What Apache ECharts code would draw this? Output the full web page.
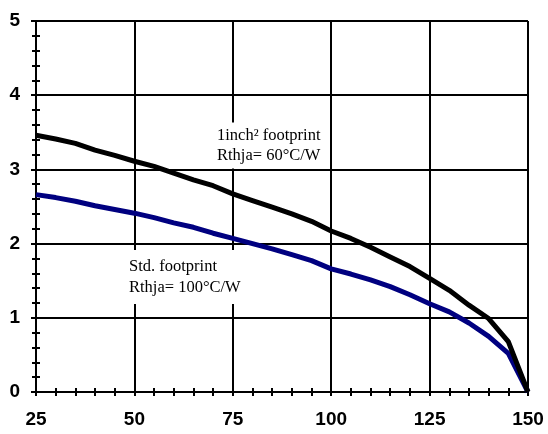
<!DOCTYPE html>
<html>
<head>
<meta charset="utf-8">
<script src="https://cdn.jsdelivr.net/npm/echarts@6/dist/echarts.min.js"></script>
<style>
html,body{margin:0;padding:0;background:#fff;}
#chart{width:548px;height:434px;}
</style>
</head>
<body>
<div id="chart"></div>
<script>
// Temperature (°C)
const temps = [25,30,35,40,45,50,55,60,65,70,75,80,85,90,95,100,105,110,115,120,125,130,135,140,145,150];
// 1inch² footprint, Rthja = 60°C/W
const footprint1inch = [3.46,3.41,3.35,3.26,3.19,3.11,3.04,2.95,2.86,2.78,2.67,2.58,2.49,2.40,2.30,2.17,2.07,1.95,1.82,1.69,1.53,1.37,1.17,0.99,0.68,0];
// Std. footprint, Rthja = 100°C/W
const footprintStd = [2.66,2.62,2.57,2.51,2.46,2.41,2.35,2.28,2.22,2.14,2.07,2.00,1.93,1.85,1.77,1.66,1.59,1.51,1.42,1.31,1.19,1.08,0.93,0.75,0.52,0];
const label1 = '1inch\u00B2 footprint\nRthja= 60\u00B0C/W';
const label2 = 'Std. footprint\nRthja= 100\u00B0C/W';

const chart = echarts.init(document.getElementById('chart'));
const pair = (xs, ys) => xs.map((x, i) => [x, ys[i]]);
const lblFont = {fontFamily:'Liberation Sans', fontWeight:'bold', fontSize:19, color:'#000'};

chart.setOption({
  animation:false,
  backgroundColor:'#fff',
  grid:{left:36, right:20, top:21, bottom:42, containLabel:false},
  xAxis:[{
    type:'value', min:25, max:150, interval:25, position:'bottom',
    axisLine:{show:true, onZero:false, lineStyle:{color:'#000', width:2}},
    axisTick:{show:true, length:4, lineStyle:{color:'#000', width:2}},
    minorTick:{show:true, splitNumber:5, length:4, lineStyle:{color:'#000', width:2}},
    splitLine:{show:true, lineStyle:{color:'#000', width:2}},
    axisLabel:Object.assign({margin:18}, lblFont)
  },{
    type:'value', min:25, max:150, interval:25, position:'bottom',
    axisLine:{show:false},
    axisTick:{show:true, inside:true, length:4, lineStyle:{color:'#000', width:2}},
    minorTick:{show:true, splitNumber:5, length:4, lineStyle:{color:'#000', width:2}},
    splitLine:{show:false},
    axisLabel:{show:false}
  }],
  yAxis:[{
    type:'value', min:0, max:5, interval:1, position:'left',
    axisLine:{show:true, onZero:false, lineStyle:{color:'#000', width:2}},
    axisTick:{show:true, length:5, lineStyle:{color:'#000', width:2}},
    minorTick:{show:true, splitNumber:5, length:4, lineStyle:{color:'#000', width:2}},
    splitLine:{show:true, lineStyle:{color:'#000', width:2}},
    axisLabel:Object.assign({margin:16}, lblFont)
  },{
    type:'value', min:0, max:5, interval:1, position:'left',
    axisLine:{show:false},
    axisTick:{show:true, inside:true, length:4, lineStyle:{color:'#000', width:2}},
    minorTick:{show:true, splitNumber:5, length:4, lineStyle:{color:'#000', width:2}},
    splitLine:{show:false},
    axisLabel:{show:false}
  }],
  series:[{
    type:'line', name:'Std. footprint', data:pair(temps, footprintStd),
    showSymbol:false, symbol:'none', lineStyle:{color:'#000080', width:5}, z:3
  },{
    type:'line', name:'1inch² footprint', data:pair(temps, footprint1inch),
    showSymbol:false, symbol:'none', lineStyle:{color:'#000', width:5}, z:4
  }],
  graphic:[{
    type:'text', left:210, top:122.5, z:10,
    style:{text:label1, font:'16.5px "Liberation Serif"', lineHeight:20, fill:'#000',
      backgroundColor:'#fff', padding:[3,8,3,7]}
  },{
    type:'text', left:123, top:250, z:10,
    style:{text:label2, font:'16.5px "Liberation Serif"', lineHeight:21, fill:'#000',
      backgroundColor:'#fff', padding:[6,7,6,6]}
  }]
});
</script>
</body>
</html>
